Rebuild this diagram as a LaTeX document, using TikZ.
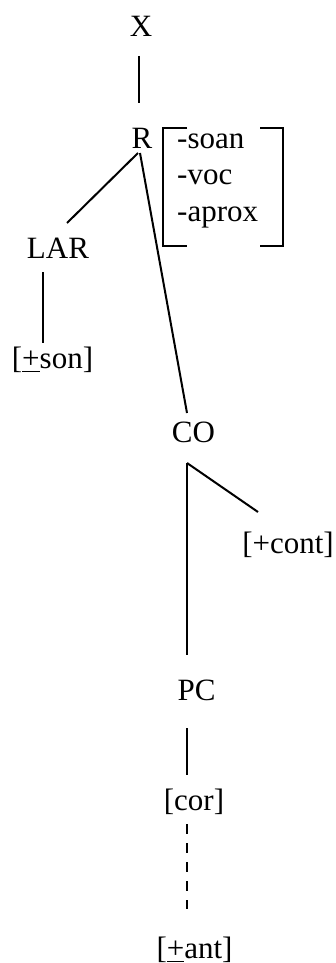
\documentclass[tikz,border=0pt]{standalone}
\usepackage{fontspec}
\setmainfont{Liberation Serif}
\usetikzlibrary{calc}
\newcommand{\ulplus}{\underline{\smash{+}\vphantom{\raisebox{-2pt}{x}}}}
\begin{document}
\begin{tikzpicture}[x=1pt,y=1pt,
  lbl/.style={inner sep=0pt,anchor=base,font=\fontsize{31}{37}\selectfont},
  feat/.style={inner sep=0pt,anchor=base west,font=\fontsize{31}{37}\selectfont},
  edge/.style={line width=2pt},
  dedge/.style={line width=2pt,dash pattern=on 10pt off 9pt}]
\useasboundingbox (0,0) rectangle (336,-963);
\node[lbl] (X) at (141,-37) {X};
\node[lbl] (R) at (142,-148) {R};
\node[feat] (f1) at (177,-148) {-soan};
\node[feat] (f2) at (177,-184.5) {-voc};
\node[feat] (f3) at (177,-221) {-aprox};
\node[lbl] (LAR) at (58,-258) {LAR};
\node[lbl] (son) at (52.5,-368) {[\ulplus son]};
\node[lbl] (CO) at (193.5,-442) {CO};
\node[lbl] (cont) at (288,-553) {[+cont]};
\node[lbl] (PC) at (196.5,-700) {PC};
\node[lbl] (cor) at (194,-810) {[cor]};
\node[lbl] (ant) at (194.5,-958) {[\ulplus ant]};
% feature matrix brackets
\draw[edge] (187,-128) -- (163,-128) -- (163,-246) -- (187,-246);
\draw[edge] (260,-128) -- (283,-128) -- (283,-246) -- (260,-246);
% connectors
\draw[edge] ($(X.base)+(-2,-19)$) -- ($(R.base)+(-3,45)$);
\draw[edge] ($(R.base)+(-4,-5)$) -- ($(LAR.base)+(9,35)$);
\draw[edge] ($(R.base)+(-2,-5)$) -- ($(CO.base)+(-6.5,29)$);
\draw[edge] ($(LAR.base)+(-15,-14)$) -- ($(son.base)+(-9.5,25)$);
\draw[edge] ($(CO.base)+(-6.5,-21)$) -- ($(cont.base)+(-30,41)$);
\draw[edge] ($(CO.base)+(-6.5,-21)$) -- ($(PC.base)+(-9.5,45)$);
\draw[edge] ($(PC.base)+(-9.5,-28)$) -- ($(cor.base)+(-7,35)$);
\draw[dedge] ($(cor.base)+(-7,-14)$) -- ($(ant.base)+(-7.5,49)$);
\end{tikzpicture}
\end{document}
